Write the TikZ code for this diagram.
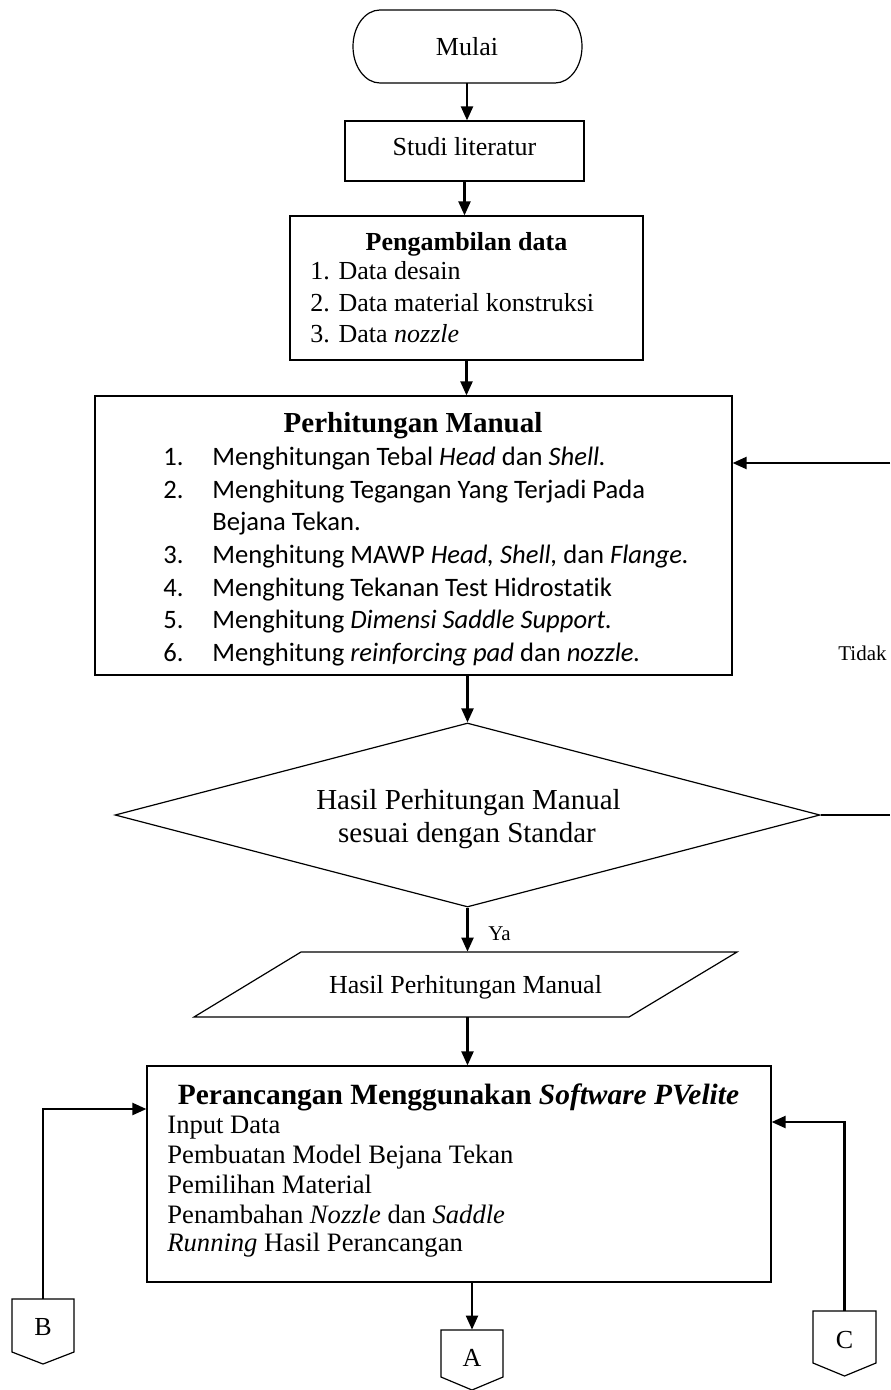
\documentclass[tikz,border=0pt]{standalone}
\usepackage{fontspec}
\setmainfont{Liberation Serif}
\newfontfamily\calfont[Ligatures={NoCommon,NoContextual}]{Carlito}
\usetikzlibrary{arrows.meta,shapes.geometric}
\begin{document}
\begin{tikzpicture}[x=0.5pt,y=-0.5pt,
  shapebox/.style={draw,line width=0.6pt,rectangle,inner sep=0pt},
  ghost/.style={rectangle,inner sep=0pt},
  flow/.style={line width=1.1pt,-{Triangle[length=7pt,width=6pt]}},
  plain/.style={line width=1.1pt},
  outline/.style={line width=0.6pt},
  txt/.style={inner sep=0pt,anchor=base,font=\fontsize{13}{15}\selectfont},
  txtl/.style={inner sep=0pt,anchor=base west,font=\fontsize{13}{15}\selectfont},
  pvl/.style={inner sep=0pt,anchor=base west,font=\fontsize{13.3}{15}\selectfont},
  big/.style={inner sep=0pt,anchor=base,font=\fontsize{14.5}{17}\selectfont},
  small/.style={inner sep=0pt,font=\fontsize{10.5}{12}\selectfont},
  cal/.style={inner sep=0pt,anchor=base west,font=\calfont\fontsize{13.3}{15}\selectfont},
]
\useasboundingbox (0,0) rectangle (890,1390);

% Mulai
\node[ghost,minimum width=114.5pt,minimum height=36.5pt] (mulai) at (467,46.5) {};
\draw[outline] (380,10) -- (555,10)
  arc[start angle=90,end angle=-90,x radius=13.5pt,y radius=18.25pt]
  -- (380,83)
  arc[start angle=270,end angle=90,x radius=13.5pt,y radius=18.25pt] -- cycle;
\node[txt] (mulaiT) at (467,56) {Mulai};

% Studi literatur
\node[shapebox,minimum width=119.5pt,minimum height=30pt] (studi) at (464.5,151) {};
\node[txt] (studiT) at (464.5,156) {Studi literatur};

% Pengambilan data
\node[shapebox,minimum width=176.5pt,minimum height=72pt] (ambil) at (466.5,288) {};
\node[txt] (ambilT) at (466.5,250.5) {\bfseries Pengambilan data};
\node[txtl] (ambil1) at (310,280) {1. Data desain};
\node[txtl] (ambil2) at (310,311.5) {2. Data material konstruksi};
\node[txtl] (ambil3) at (310,343) {3. Data \textit{nozzle}};

% Perhitungan Manual
\node[shapebox,minimum width=318.5pt,minimum height=139.5pt] (hitung) at (413.5,535.5) {};
\node[big] (hitungT) at (413,432.5) {\bfseries Perhitungan Manual};
\node[cal] (n1) at (163,465) {1.};
\node[cal] (h1) at (212,465) {Menghitungan Tebal \textit{Head} dan \textit{Shell.}};
\node[cal] (n2) at (163,498) {2.};
\node[cal] (h2) at (212,498) {Menghitung Tegangan Yang Terjadi Pada};
\node[cal] (h2b) at (212,530) {Bejana Tekan.};
\node[cal] (n3) at (163,563) {3.};
\node[cal] (h3) at (212,563) {Menghitung MAWP \textit{Head, Shell,} dan \textit{Flange.}};
\node[cal] (n4) at (163,596) {4.};
\node[cal] (h4) at (212,596) {Menghitung Tekanan Test Hidrostatik};
\node[cal] (n5) at (163,628) {5.};
\node[cal] (h5) at (212,628) {Menghitung \textit{Dimensi Saddle Support.}};
\node[cal] (n6) at (163,661) {6.};
\node[cal] (h6) at (212,661) {Menghitung \textit{reinforcing pad} dan \textit{nozzle.}};

% Decision
\node[diamond,draw,line width=0.6pt,inner sep=0pt,minimum width=352.5pt,minimum height=92pt] (cek) at (467.5,815) {};
\node[big] (cekT1) at (468.5,809) {Hasil Perhitungan Manual};
\node[big] (cekT2) at (467,842) {sesuai dengan Standar};

% Tidak / Ya labels
\node[small,anchor=base] (tidak) at (862.5,660) {Tidak};
\node[small,anchor=base west] (ya) at (488,940) {Ya};

% Parallelogram
\node[ghost,minimum width=218pt,minimum height=32.5pt] (par) at (467.5,984.5) {};
\draw[outline] (301,952) -- (737,952) -- (629,1017) -- (194,1017) -- cycle;
\node[txt] (parT) at (465.5,993) {Hasil Perhitungan Manual};

% PVelite box
\node[shapebox,minimum width=312pt,minimum height=108pt] (pv) at (459,1174) {};
\node[inner sep=0pt,anchor=base,font=\fontsize{14.7}{17}\selectfont] (pvT) at (458.5,1104) {\bfseries Perancangan Menggunakan \textit{Software PVelite}};
\node[pvl] (pv1) at (167,1133) {Input Data};
\node[pvl] (pv2) at (167,1163) {Pembuatan Model Bejana Tekan};
\node[pvl] (pv3) at (167,1193) {Pemilihan Material};
\node[pvl] (pv4) at (167,1223) {Penambahan \textit{Nozzle} dan \textit{Saddle}};
\node[pvl] (pv5) at (167,1251) {\textit{Running} Hasil Perancangan};

% Off-page connectors
\node[ghost,minimum width=31pt,minimum height=26.5pt] (B) at (43,1325.5) {};
\draw[outline] (12,1299) -- (74,1299) -- (74,1352) -- (43,1364) -- (12,1352) -- cycle;
\node[txt] (BT) at (43,1335) {B};

\node[ghost,minimum width=31pt,minimum height=23.5pt] (A) at (472,1353.5) {};
\draw[outline] (441,1330) -- (503,1330) -- (503,1377) -- (472,1390) -- (441,1377) -- cycle;
\node[txt] (AT) at (472,1366) {A};

\node[ghost,minimum width=31.5pt,minimum height=26pt] (C) at (844.5,1337) {};
\draw[outline] (813,1311) -- (876,1311) -- (876,1363) -- (844.5,1376) -- (813,1363) -- cycle;
\node[txt] (CT) at (844.5,1348) {C};

% loop coordinates at the right edge
\coordinate (loopTop) at (890,463);
\coordinate (loopBot) at (890,815);

% Connectors
\draw[flow] (mulai.south) -- (mulai.south |- studi.north);
\draw[flow] (studi.south) -- (studi.south |- ambil.north);
\draw[flow] (ambil.south) -- (ambil.south |- hitung.north);
\draw[flow] (cek.north |- hitung.south) -- (cek.north);
\draw[plain] (cek.east) -- (loopBot);
\draw[flow] (loopTop) -- (loopTop -| hitung.east);
\draw[flow] (cek.south) -- (cek.south |- par.north);
\draw[flow] (par.south) -- (par.south |- pv.north);
\draw[flow] (pv.south -| A.north) -- (A.north);
\draw[flow] (B.north) |- ([yshift=32.5pt]pv.west);
\draw[flow] (C.north) |- ([yshift=26pt]pv.east);
\end{tikzpicture}
\end{document}
